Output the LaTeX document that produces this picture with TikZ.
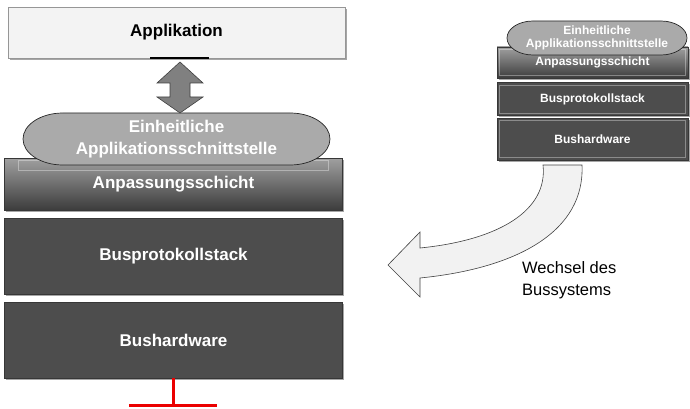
\documentclass[tikz,border=0pt]{standalone}
\usepackage{fontspec}
\setmainfont{Liberation Sans}
\usetikzlibrary{shadows,calc}
\definecolor{boxdark}{RGB}{77,77,77}
\definecolor{boxedge}{RGB}{55,55,55}
\definecolor{applfill}{RGB}{243,243,243}
\definecolor{appledge}{RGB}{150,150,150}
\definecolor{ovalfill}{RGB}{170,170,170}
\definecolor{arrowfill}{RGB}{128,128,128}
\definecolor{curvefill}{RGB}{242,242,242}
\definecolor{busred}{RGB}{235,0,0}
\tikzset{
  boxshadow/.style={drop shadow={shadow xshift=1.5pt,shadow yshift=-1.8pt,opacity=.35,fill=black}},
  layer/.style={draw=boxedge,fill=boxdark,line width=.6pt,inner sep=0pt,text=white,boxshadow},
  adapter/.style={draw=boxedge,line width=.6pt,inner sep=0pt,text=white,
    top color={rgb,255:red,160;green,160;blue,160},bottom color={rgb,255:red,60;green,60;blue,60},boxshadow},
  ovaltext/.style={inner sep=0pt,text=white,align=center},
  ovalline/.style={draw=black!85,fill=ovalfill,line width=.7pt},
  bigtext/.style={font=\bfseries\fontsize{17}{22}\selectfont},
  smalltext/.style={font=\bfseries\fontsize{12}{13}\selectfont},
  bevel/.style={draw=white,opacity=.35,line width=.5pt},
}
% oval with elliptical ends: #1 centre, #2 half width, #3 half height, #4 end radius
\newcommand{\ovalpath}[4]{%
  ($#1+(-#2+#4,-#3)$) -- ($#1+(#2-#4,-#3)$)
  arc[start angle=-90,end angle=90,x radius=#4,y radius=#3]
  -- ($#1+(-#2+#4,#3)$)
  arc[start angle=90,end angle=270,x radius=#4,y radius=#3] -- cycle}
\begin{document}
\begin{tikzpicture}[x=1pt,y=-1pt]
\useasboundingbox (0,0) rectangle (690,409);

% ---- main stack ----
\node[draw=appledge,fill=applfill,line width=.6pt,inner sep=0pt,boxshadow,
      minimum width=337pt,minimum height=51pt,bigtext] (app) at (176.5,32.5) {Applikation};
\draw[black,line width=2pt] (150,58) -- (209,58);

\node[adapter,minimum width=338pt,minimum height=52pt,bigtext] (anp) at (173.5,184) {\raisebox{-3pt}{Anpassungsschicht}};
\draw[bevel] (18,160) rectangle (328,170);
\node[layer,minimum width=338pt,minimum height=76pt,bigtext] (bps) at (173.5,256) {Busprotokollstack};
\node[layer,minimum width=338pt,minimum height=76pt,bigtext] (bhw) at (173.5,340) {Bushardware};

% unified application interface on top of the adaptation layer
\coordinate (apic) at (176.5,139);
\path[ovalline] \ovalpath{(apic)}{153.5}{26}{40};
\node[ovaltext,bigtext] (api) at (apic) {Einheitliche\\Applikationsschnittstelle};

% block double arrow between application and interface
\coordinate (dtop) at (180,62);
\coordinate (dbot) at (180,113);
\filldraw[fill=arrowfill,draw=black!75,line width=.6pt]
  (dtop) -- ++(23,21) -- ++(-13,0) -- ++(0,14) -- ++(13,0) -- (dbot)
  -- ++(-23,-16) -- ++(13,0) -- ++(0,-14) -- ++(-13,0) -- cycle;

% bus connection
\coordinate (busT) at (173,405);
\draw[busred,line width=3pt] (bhw.south -| busT) -- (busT);
\draw[busred,line width=3pt] (129,405) -- (217,405);

% ---- small stack ----
\node[adapter,minimum width=191pt,minimum height=31pt,smalltext] (sanp) at (592.5,62.5) {\raisebox{-2pt}{Anpassungsschicht}};
\draw[bevel] ($(sanp.north west)+(3,3)$) rectangle ($(sanp.south east)+(-3,-3)$);
\node[layer,minimum width=191pt,minimum height=33pt,smalltext] (sbps) at (592.5,99) {Busprotokollstack};
\draw[bevel] ($(sbps.north west)+(3,3)$) rectangle ($(sbps.south east)+(-3,-3)$);
\node[layer,minimum width=191pt,minimum height=42pt,smalltext] (sbhw) at (592.5,139) {Bushardware};
\draw[bevel] ($(sbhw.north west)+(3,3)$) rectangle ($(sbhw.south east)+(-3,-3)$);
\coordinate (sapic) at (597,38);
\path[ovalline] \ovalpath{(sapic)}{90}{17}{26};
\node[ovaltext,smalltext] (sapi) at (sapic) {Einheitliche\\Applikationsschnittstelle};

% ---- curved change arrow ----
\filldraw[fill=curvefill,draw=black!75,line width=.6pt]
  (543,165) .. controls (548,210) and (500,240) .. (420,248)
  -- (420,232) -- (388,265) -- (420,297) -- (420,278)
  .. controls (520,268) and (585,230) .. (582,165) -- cycle;

\node[anchor=north west,align=left,inner sep=0pt,font=\fontsize{16.5}{22}\selectfont] (chg) at (522,261)
  {Wechsel des\\Bussystems};
\end{tikzpicture}
\end{document}
